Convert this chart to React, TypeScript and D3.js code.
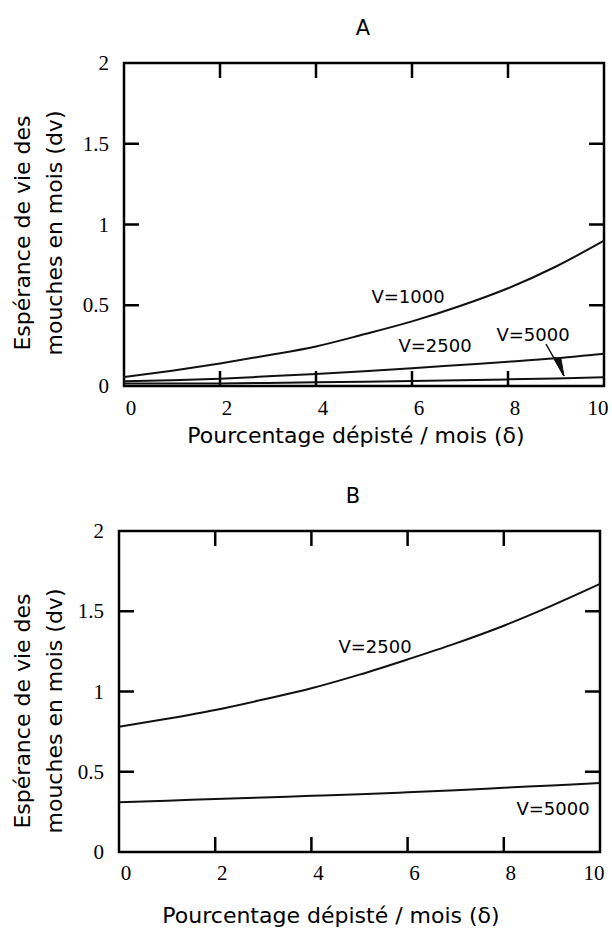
import React from 'react';
import * as d3 from 'd3';

// pourcentage dépisté / mois
const deltas = [0, 1, 2, 3, 4, 5, 6, 7, 8, 9, 10];

// panel A
const a_V1000 = [0.055, 0.095, 0.14, 0.19, 0.245, 0.32, 0.4, 0.495, 0.605, 0.74, 0.9];
const a_V2500 = [0.03, 0.035, 0.045, 0.06, 0.075, 0.092, 0.11, 0.13, 0.15, 0.172, 0.2];
const a_V5000 = [0.015, 0.015, 0.016, 0.019, 0.023, 0.027, 0.031, 0.036, 0.041, 0.047, 0.055];

// panel B
const b_V2500 = [0.78, 0.83, 0.885, 0.95, 1.02, 1.105, 1.2, 1.3, 1.41, 1.535, 1.67];
const b_V5000 = [0.31, 0.32, 0.33, 0.34, 0.35, 0.36, 0.372, 0.385, 0.4, 0.415, 0.43];

const xTicks = [0, 2, 4, 6, 8, 10];
const yTicks = [0, 0.5, 1, 1.5, 2];
const yTickLabels = ['0', '0.5', '1', '1.5', '2'];

const sans = '"DejaVu Sans", sans-serif';
const serif = '"Liberation Serif", serif';

const Panel = ({ title, titleX, box, series, labels, arrow, xTitleX, xTitleY, tickLabelY, yTitleY }) => {
  const xs = d3.scaleLinear().domain([0, 10]).range([box.left, box.right]);
  const ys = d3.scaleLinear().domain([0, 2]).range([box.bottom, box.top]);
  const lineGen = d3
    .line<number>()
    .x((d, i) => xs(deltas[i]))
    .y((d) => ys(d))
    .curve(d3.curveMonotoneX);
  const tl = 15;

  // frame and inward ticks as one path
  const p = d3.path();
  p.moveTo(box.left, box.top);
  p.lineTo(box.right, box.top);
  p.lineTo(box.right, box.bottom);
  p.lineTo(box.left, box.bottom);
  p.closePath();
  xTicks.slice(1, -1).forEach((t) => {
    p.moveTo(xs(t), box.bottom);
    p.lineTo(xs(t), box.bottom - tl);
    p.moveTo(xs(t), box.top);
    p.lineTo(xs(t), box.top + tl);
  });
  yTicks.slice(1, -1).forEach((t) => {
    p.moveTo(box.left, ys(t));
    p.lineTo(box.left + tl, ys(t));
    p.moveTo(box.right, ys(t));
    p.lineTo(box.right - tl, ys(t));
  });

  return (
    <g>
      <text x={titleX} y={ys(2) - 28} textAnchor="middle" fontFamily={sans} fontSize={21}>
        {title}
      </text>
      <path d={p.toString()} fill="none" stroke="#000" strokeWidth={2.5} />
      {xTicks.map((t) => (
        <text
          key={'xl' + t}
          x={xs(t) + (t === 10 ? -6 : 7)}
          y={tickLabelY}
          textAnchor="middle"
          dominantBaseline="central"
          fontFamily={serif}
          fontSize={21}
        >
          {t}
        </text>
      ))}
      {yTicks.map((t, i) => (
        <text
          key={'ylab' + t}
          x={box.left - 15}
          y={ys(t)}
          textAnchor="end"
          dominantBaseline="central"
          fontFamily={serif}
          fontSize={21}
        >
          {yTickLabels[i]}
        </text>
      ))}
      {series.map((s, i) => (
        <path key={i} d={lineGen(s) || ''} fill="none" stroke="#111" strokeWidth={2} />
      ))}
      {labels.map((l, i) => (
        <text
          key={'lab' + i}
          x={l.x}
          y={l.y}
          textAnchor="middle"
          dominantBaseline="central"
          fontFamily={sans}
          fontSize={18}
        >
          {l.text}
        </text>
      ))}
      {arrow && (
        <g>
          <line x1={arrow.x1} y1={arrow.y1} x2={arrow.x2} y2={arrow.y2} stroke="#111" strokeWidth={1.5} />
          <path
            d={`M${arrow.x2},${arrow.y2} L${arrow.x2 - 11},${arrow.y2 - 19} L${arrow.x2 - 3},${arrow.y2 - 17} Z`}
            fill="#111"
            stroke="#111"
          />
        </g>
      )}
      <text x={xTitleX} y={xTitleY} textAnchor="middle" dominantBaseline="central" fontFamily={sans} fontSize={22}>
        Pourcentage dépisté / mois (δ)
      </text>
      <g transform={`translate(22,${yTitleY}) rotate(-90)`}>
        <text x={0} y={0} textAnchor="middle" dominantBaseline="central" fontFamily={sans} fontSize={22}>
          Espérance de vie des
        </text>
        <text x={0} y={32} textAnchor="middle" dominantBaseline="central" fontFamily={sans} fontSize={22}>
          mouches en mois (dv)
        </text>
      </g>
    </g>
  );
};

export default function App() {
  return (
    <div style={{ position: 'absolute', left: 0, top: 0 }}>
      <svg width={612} height={930} style={{ display: 'block', background: '#fff' }}>
        <Panel
          title="A"
          titleX={363}
          box={{ left: 124, right: 604, top: 63, bottom: 386 }}
          series={[a_V1000, a_V2500, a_V5000]}
          labels={[
            { text: 'V=1000', x: 408, y: 296 },
            { text: 'V=2500', x: 435, y: 345 },
            { text: 'V=5000', x: 533, y: 334 },
          ]}
          arrow={{ x1: 546, y1: 344, x2: 564, y2: 376 }}
          xTitleX={356}
          xTitleY={435}
          tickLabelY={408}
          yTitleY={233}
        />
        <Panel
          title="B"
          titleX={353}
          box={{ left: 119, right: 600, top: 531, bottom: 852 }}
          series={[b_V2500, b_V5000]}
          labels={[
            { text: 'V=2500', x: 375, y: 646 },
            { text: 'V=5000', x: 553, y: 808 },
          ]}
          xTitleX={331}
          xTitleY={915}
          tickLabelY={873}
          yTitleY={711}
        />
      </svg>
    </div>
  );
}
